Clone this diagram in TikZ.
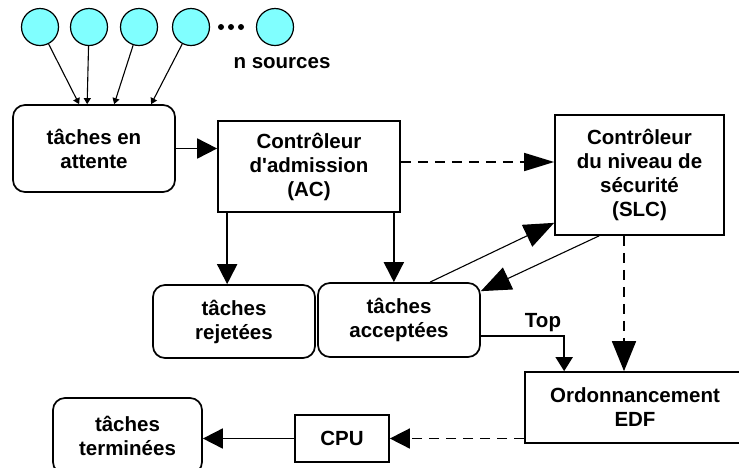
\documentclass[tikz,border=0pt]{standalone}
\usepackage{fontspec}
\setmainfont{Liberation Sans}
\usetikzlibrary{arrows.meta}
\definecolor{srccyan}{RGB}{128,255,255}
\tikzset{
  lbl/.style={font=\fontsize{20.5}{24}\selectfont\bfseries, align=center, inner sep=0pt},
  rbox/.style={lbl, draw, line width=1.7pt, rounded corners=12pt},
  sbox/.style={lbl, draw, line width=1.7pt},
  src/.style={circle, draw, line width=1.2pt, fill=srccyan, minimum size=37pt, inner sep=0pt},
  conn/.style={line width=1.8pt},
  thinconn/.style={line width=1.1pt},
  dashconn/.style={line width=1.6pt, dash pattern=on 10pt off 7pt},
  bigtip/.style={-{Triangle[length=20pt,width=20pt]}},
  hugetip/.style={-{Triangle[length=30pt,width=24pt]}},
  longtip/.style={-{Triangle[length=30pt,width=18pt]}},
  midtip/.style={-{Triangle[length=14pt,width=17pt]}},
  smalltip/.style={-{Triangle[length=6pt,width=7pt]}},
}
\begin{document}
\begin{tikzpicture}[x=1pt,y=-1pt]
\useasboundingbox (0,0) rectangle (739,467);
% sources
\node[src] (s1) at (40,27) {};
\node[src] (s2) at (89,27) {};
\node[src] (s3) at (139,27) {};
\node[src] (s4) at (191,27) {};
\node[src] (s5) at (275,27) {};
\fill (221,27) circle (3pt) (231,27) circle (3pt) (241,27) circle (3pt);
\node[lbl] (nsrc) at (282,63) {n sources};
% boxes
\node[rbox, minimum width=162pt, minimum height=87pt] (att) at (94,148.5) {tâches en\\attente};
\node[sbox, minimum width=182pt, minimum height=91pt] (ac) at (309,166.5) {Contrôleur\\d\textquotesingle admission\\(AC)};
\node[sbox, minimum width=169pt, minimum height=120pt] (slc) at (639.5,175) {Contrôleur\\du niveau de\\sécurité\\(SLC)};
\node[rbox, minimum width=162pt, minimum height=73pt] (rej) at (234,321.5) {tâches\\rejetées};
\node[rbox, minimum width=162pt, minimum height=74pt] (acc) at (399,320) {tâches\\acceptées};
\node[sbox, minimum width=220pt, minimum height=71pt] (edf) at (635,407.5) {Ordonnancement\\EDF};
\node[sbox, minimum width=94pt, minimum height=47pt] (cpu) at (342,438.5) {CPU};
\node[rbox, minimum width=149pt, minimum height=76pt] (term) at (127.5,436) {tâches\\terminées};
% source arrows
\coordinate (a1) at ([xshift=67pt]att.north west);
\coordinate (a2) at ([xshift=75pt]att.north west);
\coordinate (a3) at ([xshift=102pt]att.north west);
\coordinate (a4) at ([xshift=139pt]att.north west);
\draw[thinconn, smalltip] (s1) -- (a1);
\draw[thinconn, smalltip] (s2) -- (a2);
\draw[thinconn, smalltip] (s3) -- (a3);
\draw[thinconn, smalltip] (s4) -- (a4);
% main connectors
\draw[conn, bigtip] (att.east) -- (att.east -| ac.west);
\draw[dashconn, longtip] ([yshift=4.5pt]ac.east) -- ([yshift=4.5pt]ac.east -| slc.west);
\draw[conn, bigtip] ([xshift=10pt]ac.south west) -- ([xshift=10pt]ac.south west |- rej.north);
\draw[conn, bigtip] ([xshift=-7pt]ac.south east) -- ([xshift=-7pt]ac.south east |- acc.north);
\draw[thinconn, hugetip] ([xshift=31pt]acc.north) -- ([yshift=13pt]slc.south west);
\draw[thinconn, hugetip] ([xshift=45pt]slc.south west) -- ([yshift=-9pt]acc.north east);
\draw[conn, midtip] ([yshift=-16pt]acc.east) -| ([xshift=40pt]edf.north west);
\node[lbl] (top) at (543,323) {Top};
\draw[dashconn, hugetip] ([xshift=-15.5pt]slc.south) -- ([xshift=-15.5pt]slc.south |- edf.north);
\draw[dashconn, bigtip] (edf.west |- cpu.east) -- (cpu.east);
\draw[conn, bigtip] (cpu.west) -- (cpu.west -| term.east);
\end{tikzpicture}
\end{document}
